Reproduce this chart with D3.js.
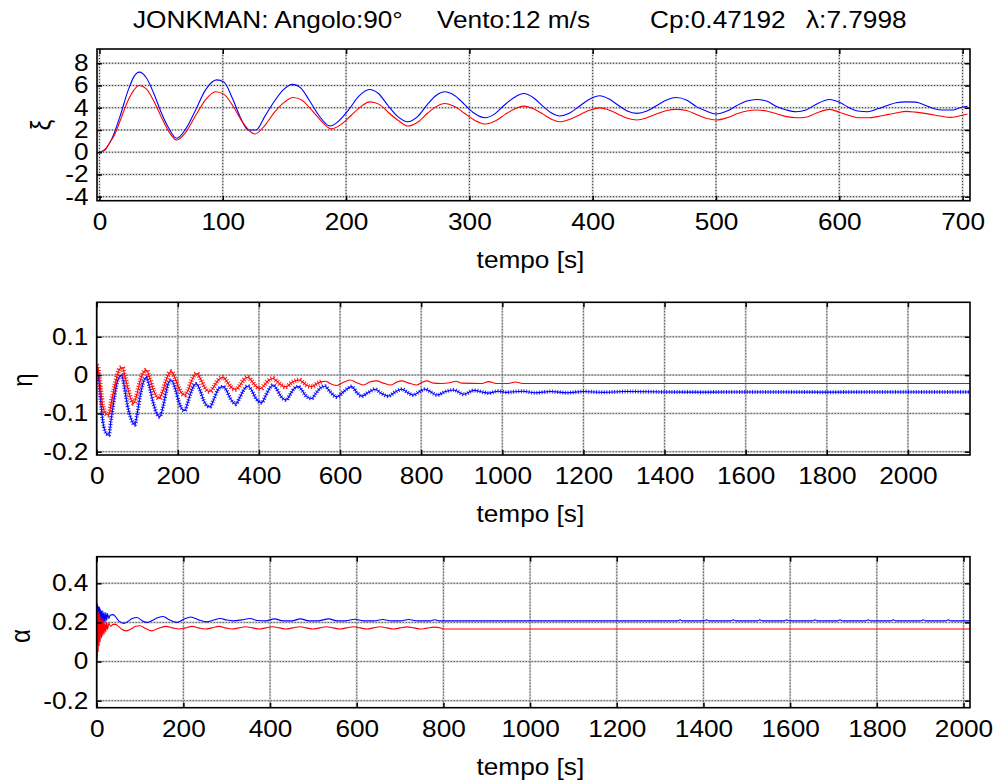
<!DOCTYPE html>
<html><head><meta charset="utf-8">
<script src="https://cdn.jsdelivr.net/npm/d3@7/dist/d3.min.js"></script>
<style>
body{margin:0;background:#fff;}
text{font-family:"Liberation Sans",Arial,sans-serif;fill:#000;}
</style></head>
<body><svg id="c" width="994" height="782"></svg>
<script>
// ---------- DATA ----------
const titleParts = ["JONKMAN: Angolo:90°", "Vento:12 m/s", "Cp:0.47192", "λ:7.7998"];
const xLabel = "tempo [s]";
const yLabels = ["ξ", "η", "α"];

const xiTicksX = [0,100,200,300,400,500,600,700];
const xiTicksY = [-4,-2,0,2,4,6,8];
const etaTicksX = [0,200,400,600,800,1000,1200,1400,1600,1800,2000];
const etaTicksY = [-0.2,-0.1,0,0.1];
const alphaTicksX = [0,200,400,600,800,1000,1200,1400,1600,1800,2000];
const alphaTicksY = [-0.2,0,0.2,0.4];

const xiBlue = [[0,0],[4.5,0.25],[10,1.2],[16.6,3.2],[23.4,5.6],[28,6.8],[32.3,7.2],[38,6.7],[44,5.3],[50,3.6],[56,2.2],[62.6,1.25],[70,2.1],[78,3.8],[86,5.6],[95,6.5],[101,6.3],[108,4.8],[114,3.2],[120.7,2.0],[127,2.0],[134,3.2],[142,4.6],[149,5.6],[156.6,6.1],[163,5.8],[170,4.7],[178,3.3],[187,2.35],[194,2.8],[202,3.8],[210,5.0],[219,5.64],[226,5.3],[234,4.2],[242,3.2],[250,2.74],[258,3.2],[266,4.3],[273,5.1],[280,5.43],[288,5.1],[296,4.3],[304,3.5],[312.6,3.1],[320,3.4],[328,4.2],[336,4.9],[344,5.28],[352,4.9],[360,4.1],[367,3.5],[373,3.25],[381,3.5],[390,4.2],[398,4.8],[405.8,5.07],[413,4.8],[421,4.2],[428,3.7],[436,3.49],[444,3.7],[452,4.2],[460,4.7],[468,4.92],[476,4.7],[484,4.1],[492,3.7],[500,3.43],[509,3.7],[517,4.2],[525,4.6],[533,4.74],[541,4.6],[549,4.1],[557,3.8],[565,3.64],[573,3.8],[581,4.3],[592,4.74],[600,4.5],[608,4.0],[615,3.7],[623,3.64],[631,3.9],[639,4.2],[646,4.45],[654,4.53],[662,4.5],[670,4.2],[677,3.9],[684,3.79],[692,3.8],[698,4.0],[704,4.14]];
const xiRed = [[0,0],[4.5,0.2],[8.5,0.9],[12,1.5],[17,2.9],[23,4.6],[28,5.6],[32,6.0],[38,5.7],[44,4.6],[50,3.2],[56,1.9],[62.6,1.1],[70,1.8],[78,3.3],[86,4.7],[94,5.43],[101,5.2],[108,4.2],[116,2.7],[126,1.64],[134,2.4],[142,3.6],[150,4.5],[157,4.92],[164,4.7],[172,3.8],[180,2.8],[188,2.1],[196,2.5],[204,3.3],[212,4.1],[219,4.53],[227,4.3],[235,3.5],[243,2.8],[250,2.35],[258,2.7],[266,3.5],[273,4.1],[280,4.38],[288,4.1],[296,3.5],[304,2.9],[313,2.53],[321,2.8],[329,3.4],[337,3.9],[344,4.14],[352,3.9],[360,3.4],[367,2.95],[373,2.74],[381,2.95],[390,3.4],[398,3.8],[406,3.99],[413,3.8],[421,3.4],[428,3.05],[436,2.89],[444,3.1],[452,3.45],[460,3.75],[468,3.85],[476,3.75],[484,3.4],[492,3.05],[500,2.89],[509,3.1],[517,3.45],[525,3.7],[533,3.79],[541,3.7],[549,3.45],[557,3.2],[565,3.1],[573,3.15],[581,3.5],[592,3.85],[600,3.6],[608,3.3],[615,3.1],[623,3.1],[631,3.2],[640,3.4],[647,3.55],[654,3.67],[662,3.6],[672,3.45],[682,3.25],[690,3.13],[697,3.25],[704,3.43]];

const etaBlue = [[0,0.02],[3,0.0],[6,-0.02],[10,-0.07],[15,-0.12],[20,-0.145],[26,-0.155],[30,-0.157],[35,-0.12],[42,-0.07],[50,-0.02],[56,-0.005],[61,0.0],[68,-0.03],[76,-0.08],[85,-0.115],[94,-0.13],[100,-0.1],[108,-0.05],[116,-0.015],[122.7,-0.006],[130,-0.03],[140,-0.075],[148,-0.1],[155.6,-0.109],[163,-0.085],[172,-0.04],[178,-0.018],[184,-0.013],[192,-0.03],[202,-0.068],[210,-0.088],[217,-0.093],[225,-0.07],[234,-0.04],[240,-0.027],[246,-0.023],[255,-0.04],[264,-0.067],[272,-0.08],[279,-0.083],[288,-0.065],[298,-0.04],[305,-0.032],[312,-0.03],[320,-0.04],[330,-0.062],[337,-0.072],[343,-0.076],[352,-0.06],[362,-0.04],[368,-0.031],[374,-0.029],[382,-0.04],[392,-0.06],[400,-0.069],[407,-0.072],[416,-0.055],[426,-0.035],[435,-0.026],[443,-0.035],[452,-0.052],[460,-0.062],[468,-0.065],[476,-0.052],[486,-0.036],[497,-0.03],[505,-0.038],[514,-0.052],[522,-0.059],[530,-0.061],[540,-0.048],[552,-0.033],[563,-0.029],[575,-0.043],[592,-0.057],[610,-0.042],[629,-0.030],[641,-0.045],[653,-0.055],[670,-0.045],[686,-0.037],[702,-0.048],[719,-0.055],[736,-0.044],[752,-0.037],[767,-0.046],[781,-0.052],[796,-0.043],[810,-0.037],[825,-0.045],[839,-0.052],[860,-0.043],[880,-0.039],[905,-0.050],[930,-0.040],[950,-0.044],[966,-0.047],[990,-0.042],[1010,-0.045],[1050,-0.042],[1080,-0.046],[1120,-0.043],[1160,-0.046],[1200,-0.043],[1250,-0.045],[1300,-0.043],[1400,-0.044],[1500,-0.0445],[1600,-0.044],[1800,-0.0445],[2000,-0.044],[2153,-0.044]];
const etaRed = [[0,0.025],[3,0.02],[6,0.0],[10,-0.04],[15,-0.08],[22,-0.1],[30,-0.104],[36,-0.07],[44,-0.03],[52,0.005],[58,0.018],[63,0.02],[70,-0.005],[78,-0.04],[85,-0.065],[91,-0.074],[98,-0.055],[106,-0.02],[114,0.005],[122.7,0.013],[130,-0.005],[140,-0.04],[148,-0.056],[154,-0.061],[162,-0.045],[172,-0.01],[178,0.004],[184,0.009],[192,-0.005],[202,-0.033],[210,-0.048],[217,-0.052],[225,-0.04],[235,-0.012],[241,0.0],[247,0.004],[255,-0.008],[265,-0.03],[272,-0.04],[279,-0.043],[288,-0.032],[298,-0.015],[305,-0.008],[312,-0.006],[320,-0.015],[330,-0.03],[337,-0.036],[343,-0.037],[352,-0.028],[362,-0.013],[368,-0.007],[373,-0.006],[382,-0.015],[392,-0.028],[399,-0.034],[405,-0.035],[414,-0.025],[425,-0.013],[435,-0.009],[445,-0.017],[455,-0.026],[462,-0.03],[468,-0.03],[478,-0.022],[490,-0.015],[500,-0.013],[510,-0.02],[520,-0.028],[530,-0.03],[542,-0.023],[555,-0.017],[565,-0.016],[575,-0.022],[592,-0.027],[610,-0.018],[625,-0.013],[641,-0.02],[657,-0.026],[673,-0.018],[690,-0.015],[707,-0.021],[725,-0.026],[738,-0.019],[752,-0.015],[770,-0.021],[789,-0.026],[802,-0.019],[814,-0.015],[830,-0.021],[850,-0.022],[870,-0.020],[886,-0.016],[900,-0.021],[950,-0.022],[966,-0.017],[985,-0.022],[1015,-0.022],[1032,-0.018],[1050,-0.022],[1100,-0.0218],[2153,-0.0218]];

const alphaBlue = [[0,0],[0.5,0.30],[1.5,0.06],[2.5,0.29],[3.5,0.09],[4.5,0.28],[5.5,0.12],[6.5,0.28],[7.5,0.14],[8.5,0.27],[10,0.16],[11,0.26],[12.5,0.18],[14,0.26],[15.5,0.19],[17,0.25],[19,0.2],[21,0.25],[23,0.21],[25,0.245],[28,0.22],[31,0.237],[38,0.24],[45,0.225],[52,0.205],[63,0.195],[72,0.205],[82,0.22],[93,0.225],[104,0.21],[116,0.2],[128,0.21],[142,0.225],[154,0.23],[166,0.215],[185,0.2],[200,0.215],[217,0.228],[235,0.213],[255,0.203],[270,0.212],[285,0.22],[300,0.212],[315,0.208],[335,0.213],[354,0.22],[370,0.21],[390,0.208],[410,0.218],[430,0.208],[450,0.208],[470,0.218],[490,0.208],[510,0.208],[535,0.218],[555,0.208],[575,0.208],[595,0.216],[615,0.208],[640,0.208],[660,0.215],[680,0.208],[700,0.208],[720,0.215],[740,0.208],[770,0.208],[780,0.214],[790,0.208],[1340,0.208],[1346,0.213],[1352,0.208],[1401,0.208],[1407,0.213],[1413,0.208],[1463,0.208],[1469,0.213],[1475,0.208],[1524,0.208],[1530,0.213],[1536,0.208],[1586,0.208],[1592,0.213],[1598,0.208],[1651,0.208],[1657,0.213],[1663,0.208],[1709,0.208],[1715,0.213],[1721,0.208],[1774,0.208],[1780,0.213],[1786,0.208],[1832,0.208],[1838,0.213],[1844,0.208],[1901,0.208],[1907,0.213],[1913,0.208],[1959,0.208],[1965,0.213],[1971,0.208],[2015,0.208]];
const alphaRed = [[0,0],[0.5,0.26],[1.5,0.02],[2.5,0.26],[3.5,0.05],[4.5,0.25],[5.5,0.08],[6.5,0.24],[8,0.1],[9.5,0.23],[11,0.12],[12.5,0.22],[14,0.13],[15.5,0.21],[17,0.14],[19,0.2],[21,0.15],[23,0.2],[25,0.165],[28,0.195],[32,0.18],[38,0.19],[43,0.19],[50,0.18],[58,0.165],[68,0.157],[78,0.165],[90,0.18],[100,0.183],[112,0.17],[127,0.157],[140,0.168],[160,0.18],[175,0.172],[190,0.166],[205,0.172],[220,0.18],[235,0.172],[250,0.166],[265,0.172],[282,0.18],[297,0.172],[312,0.166],[328,0.172],[344,0.178],[360,0.172],[375,0.166],[390,0.172],[406,0.178],[422,0.172],[437,0.166],[452,0.172],[468,0.178],[484,0.172],[499,0.166],[514,0.172],[530,0.178],[546,0.172],[561,0.166],[576,0.172],[592,0.178],[608,0.172],[623,0.166],[638,0.172],[654,0.178],[670,0.172],[685,0.166],[700,0.172],[716,0.177],[732,0.172],[747,0.166],[762,0.171],[778,0.176],[794,0.171],[800,0.166],[2015,0.166]];

// ---------- LAYOUT ----------
const svg = d3.select("#c");
const FS = 23;         // font size
const SX = 1.14;       // horizontal stretch of the reference figure's text
const panels = [
  {x0:97, x1:970, y0:49, y1:200.7, xd:[-2,706], yd:[-4.36,9.28], xt:xiTicksX, yt:xiTicksY,
   series:[{d:xiBlue,c:"#0000ff"},{d:xiRed,c:"#ff0000"}], yl:yLabels[0], ylx:40, yly:125},
  {x0:96.7, x1:970, y0:302.3, y1:455, xd:[0,2153], yd:[-0.2086,0.19], xt:etaTicksX, yt:etaTicksY,
   series:[{d:etaBlue,c:"#0000ff",rip:4,ripEnd:2153},{d:etaRed,c:"#ff0000",rip:5,ripEnd:560}], yl:yLabels[1], ylx:22, yly:380},
  {x0:96.7, x1:970, y0:556.7, y1:707.7, xd:[0,2015], yd:[-0.236,0.536], xt:alphaTicksX, yt:alphaTicksY,
   series:[{d:alphaBlue,c:"#0000ff"},{d:alphaRed,c:"#ff0000"}], yl:yLabels[2], ylx:20, yly:636}
];
const fmt = d => { const r = Math.round(d*1000)/1000; return String(r); };

panels.forEach((p,i) => {
  const x = d3.scaleLinear().domain(p.xd).range([p.x0,p.x1]);
  const y = d3.scaleLinear().domain(p.yd).range([p.y1,p.y0]);
  const g = svg.append("g");
  const cid = "clip"+i;
  g.append("clipPath").attr("id",cid).append("rect")
    .attr("x",p.x0).attr("y",p.y0).attr("width",p.x1-p.x0).attr("height",p.y1-p.y0);
  // grid
  const grid = g.append("g");
  [["#cfcfcf",2,null],["#333",1,"1,2"]].forEach(([col,w,da]) => {
    grid.selectAll(null).data(p.xt).enter().append("line")
      .attr("x1",d=>x(d)).attr("x2",d=>x(d)).attr("y1",p.y0).attr("y2",p.y1)
      .attr("stroke",col).attr("stroke-width",w).attr("stroke-dasharray",da);
    grid.selectAll(null).data(p.yt).enter().append("line")
      .attr("y1",d=>y(d)).attr("y2",d=>y(d)).attr("x1",p.x0).attr("x2",p.x1)
      .attr("stroke",col).attr("stroke-width",w).attr("stroke-dasharray",da);
  });
  // lines
  const lg = g.append("g").attr("clip-path",`url(#${cid})`);
  const line = d3.line().x(d=>x(d[0])).y(d=>y(d[1])).curve(d3.curveMonotoneX);
  p.series.forEach(s => {
    lg.append("path").datum(s.d).attr("d",line).attr("fill","none")
      .attr("stroke",s.c).attr("stroke-width",1.1);
    if (s.rip) {
      lg.append("path").datum(s.d.filter(q=>q[0]<=s.ripEnd)).attr("d",line).attr("fill","none")
        .attr("stroke",s.c).attr("stroke-width",s.rip).attr("stroke-dasharray","1,1.6").attr("opacity",0.85);
    }
  });
  // axes (inward ticks)
  const ax = (gen, tx, ty) => g.append("g").attr("transform",`translate(${tx},${ty})`).call(gen)
      .call(a=>a.select(".domain").remove())
      .call(a=>a.selectAll("line").attr("stroke","#000").attr("stroke-width",1.5))
      .call(a=>a.selectAll("text").attr("font-size",FS).attr("transform",`scale(${SX},1)`)
        .attr("font-family","Liberation Sans, Arial, sans-serif").attr("fill","#000"));
  ax(d3.axisBottom(x).tickValues(p.xt).tickFormat(fmt).tickSize(-5).tickPadding(12.5), 0, p.y1);
  ax(d3.axisTop(x).tickValues(p.xt).tickFormat("").tickSize(-5), 0, p.y0);
  ax(d3.axisLeft(y).tickValues(p.yt).tickFormat(fmt).tickSize(-5).tickPadding(7.3), p.x0, 0);
  ax(d3.axisRight(y).tickValues(p.yt).tickFormat("").tickSize(-5), p.x1, 0);
  // box
  g.append("rect").attr("x",p.x0).attr("y",p.y0).attr("width",p.x1-p.x0).attr("height",p.y1-p.y0)
    .attr("fill","none").attr("stroke","#000").attr("stroke-width",1.6);
  // labels
  g.append("text").attr("transform",`translate(${(p.x0+p.x1)/2 - 3},${p.y1+67}) scale(${SX},1)`)
    .attr("text-anchor","middle").attr("font-size",FS).text(xLabel);
  g.append("text").attr("transform",`translate(${p.ylx},${p.yly}) rotate(-90) scale(1,${SX})`)
    .attr("text-anchor","middle").attr("dy","0.35em").attr("font-size",FS+1).text(p.yl);
});
// title
const titleX = [133, 437, 650, 806];
svg.append("g").selectAll("text").data(titleParts).enter().append("text")
  .attr("transform",(d,i)=>`translate(${titleX[i]},28) scale(${SX},1)`)
  .attr("font-size",FS).text(d=>d);
</script></body></html>
